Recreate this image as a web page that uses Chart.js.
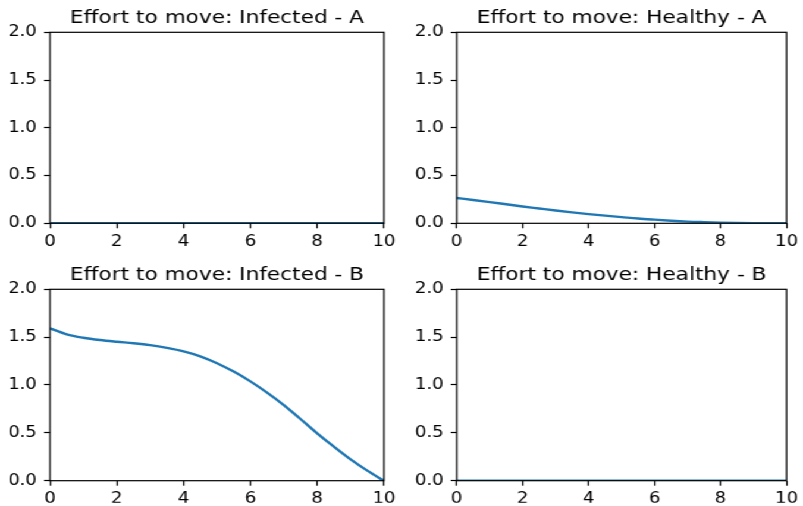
<!DOCTYPE html>
<html>
<head>
<meta charset="utf-8">
<script src="https://cdn.jsdelivr.net/npm/chart.js@4.4.1/dist/chart.umd.min.js"></script>
<style>
  html, body { margin: 0; padding: 0; background: #fff; overflow: hidden; width: 803px; height: 506px; }
  #fig { position: absolute; left: 0; top: 0; width: 675px; height: 506px; transform: scaleX(1.18963); transform-origin: 0 0; }
  canvas { position: absolute; }
</style>
</head>
<body>
<div id="fig">
  <canvas id="c1" width="337" height="257" style="left:0px;top:0px;width:337px;height:257px"></canvas>
  <canvas id="c2" width="338" height="257" style="left:337px;top:0px;width:338px;height:257px"></canvas>
  <canvas id="c3" width="337" height="249" style="left:0px;top:257px;width:337px;height:249px"></canvas>
  <canvas id="c4" width="338" height="249" style="left:337px;top:257px;width:338px;height:249px"></canvas>
</div>
<script>
// ---- data ----
const times = [0, 0.5, 1, 1.5, 2, 2.5, 3, 3.5, 4, 4.5, 5, 5.5, 6, 6.5, 7, 7.5, 8, 8.5, 9, 9.5, 10];
const infectedA = [0, 0, 0, 0, 0, 0, 0, 0, 0, 0, 0, 0, 0, 0, 0, 0, 0, 0, 0, 0, 0];
const healthyA = [0.265, 0.244, 0.222, 0.199, 0.176, 0.155, 0.134, 0.114, 0.096, 0.080, 0.065, 0.050, 0.038, 0.027, 0.018, 0.012, 0.007, 0.004, 0.002, 0.001, 0.0];
const infectedB = [1.592, 1.530, 1.494, 1.470, 1.452, 1.436, 1.416, 1.388, 1.352, 1.300, 1.228, 1.140, 1.038, 0.920, 0.790, 0.645, 0.495, 0.355, 0.222, 0.105, 0.0];
const healthyB = [0, 0, 0, 0, 0, 0, 0, 0, 0, 0, 0, 0, 0, 0, 0, 0, 0, 0, 0, 0, 0];
const titles = ["Effort to move: Infected - A", "Effort to move: Healthy - A", "Effort to move: Infected - B", "Effort to move: Healthy - B"];
const xTicks = [0, 2, 4, 6, 8, 10];
const yTicks = [0.0, 0.5, 1.0, 1.5, 2.0];

const FONT = "'DejaVu Sans', 'Liberation Sans', sans-serif";

const framePlugin = {
  id: 'frameAndTitle',
  afterDraw(chart, args, opts) {
    const a = chart.chartArea;
    const ctx = chart.ctx;
    ctx.save();
    ctx.strokeStyle = '#000';
    ctx.lineWidth = 1.2;
    ctx.strokeRect(a.left, a.top, a.right - a.left, a.bottom - a.top);
    ctx.fillStyle = '#000';
    ctx.font = '18.2px ' + FONT;
    ctx.textAlign = 'center';
    ctx.textBaseline = 'alphabetic';
    ctx.fillText(opts.text, (a.left + a.right) / 2, a.top - 9.3);
    ctx.restore();
  }
};

function makeChart(id, title, values, yAxisWidth, padRight, padBottom, xAxisHeight) {
  const pts = times.map((t, i) => ({ x: t, y: values[i] }));
  return new Chart(document.getElementById(id), {
    type: 'line',
    data: {
      datasets: [{
        data: pts,
        borderColor: '#1f77b4',
        borderWidth: 2.4,
        pointRadius: 0,
        fill: false,
        cubicInterpolationMode: 'monotone'
      }]
    },
    options: {
      responsive: false,
      animation: false,
      devicePixelRatio: 1,
      layout: { padding: { top: 32.3, left: 0, right: padRight, bottom: padBottom } },
      plugins: {
        legend: { display: false },
        tooltip: { enabled: false },
        title: { display: false },
        frameAndTitle: { text: title }
      },
      scales: {
        x: {
          type: 'linear',
          min: 0, max: 10,
          afterBuildTicks: s => { s.ticks = xTicks.map(v => ({ value: v })); },
          afterFit: s => { s.height = xAxisHeight; },
          ticks: {
            color: '#000',
            font: { family: FONT, size: 15.2 },
            padding: 4.2,
            maxRotation: 0,
            autoSkip: false,
            callback: v => String(v)
          },
          grid: { display: true, drawOnChartArea: false, drawTicks: true, tickLength: 5, tickWidth: 1.2, tickColor: '#000' },
          border: { display: false }
        },
        y: {
          type: 'linear',
          min: 0, max: 2,
          afterBuildTicks: s => { s.ticks = yTicks.map(v => ({ value: v })); },
          afterFit: s => { s.width = yAxisWidth; },
          ticks: {
            color: '#000',
            font: { family: FONT, size: 15.2 },
            padding: 6,
            autoSkip: false,
            callback: v => Number(v).toFixed(1)
          },
          grid: { display: true, drawOnChartArea: false, drawTicks: true, tickLength: 5, tickWidth: 1.2, tickColor: '#000' },
          border: { display: false }
        }
      }
    },
    plugins: [framePlugin]
  });
}

makeChart('c1', titles[0], infectedA, 42.03, 14.21, 3.7, 30);
makeChart('c2', titles[1], healthyA, 46.9, 10.34, 3.7, 30);
makeChart('c3', titles[2], infectedB, 42.03, 14.21, 3.3, 22);
makeChart('c4', titles[3], healthyB, 46.9, 10.34, 3.3, 22);
</script>
</body>
</html>
